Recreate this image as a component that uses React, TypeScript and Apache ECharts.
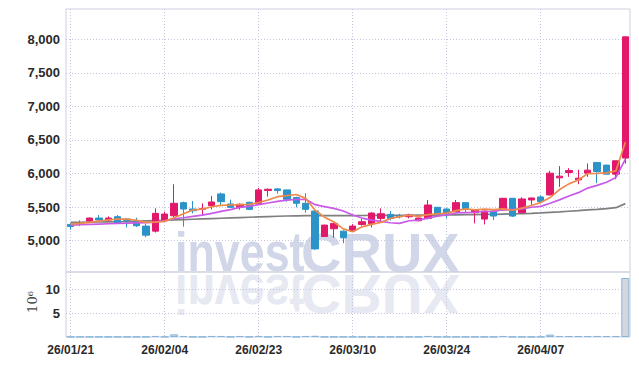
import React, { useEffect, useRef } from "react";
import * as echarts from "echarts";

const dates = [
  "26/01/21", "26/01/22", "26/01/23", "26/01/26", "26/01/27", "26/01/28", "26/01/29", "26/01/30",
  "26/02/02", "26/02/03", "26/02/04", "26/02/05", "26/02/06", "26/02/09", "26/02/10", "26/02/11",
  "26/02/12", "26/02/13", "26/02/19", "26/02/20", "26/02/23", "26/02/24", "26/02/25", "26/02/26",
  "26/02/27", "26/03/03", "26/03/04", "26/03/05", "26/03/06", "26/03/09", "26/03/10", "26/03/11",
  "26/03/12", "26/03/13", "26/03/16", "26/03/17", "26/03/18", "26/03/19", "26/03/20", "26/03/23",
  "26/03/24", "26/03/25", "26/03/26", "26/03/27", "26/03/30", "26/03/31", "26/04/01", "26/04/02",
  "26/04/03", "26/04/06", "26/04/07", "26/04/08", "26/04/09", "26/04/10", "26/04/13", "26/04/14",
  "26/04/15", "26/04/16", "26/04/17", "26/04/20",
];

const opens = [
  5240, 5250, 5290, 5335, 5305, 5355, 5320, 5300, 5215, 5140,
  5295, 5370, 5565, 5470, 5465, 5520, 5695, 5545, 5495, 5570,
  5555, 5745, 5770, 5755, 5640, 5555, 5440, 5060, 5175, 5140,
  5145, 5240, 5250, 5330, 5390, 5370, 5355, 5295, 5330, 5495,
  5470, 5430, 5565, 5415, 5320, 5440, 5455, 5630, 5415, 5605,
  5650, 5680, 5935, 6015, 5905, 6005, 6165, 6125, 5990, 6230,
];
const closes = [
  5210, 5240, 5335, 5305, 5335, 5265, 5300, 5220, 5080, 5405,
  5395, 5555, 5470, 5445, 5475, 5575, 5580, 5495, 5540, 5465,
  5755, 5765, 5745, 5615, 5555, 5465, 4875, 5230, 5255, 5040,
  5215, 5280, 5410, 5400, 5330, 5355, 5380, 5335, 5530, 5390,
  5405, 5565, 5470, 5460, 5440, 5365, 5630, 5365, 5620, 5635,
  5580, 6005, 5960, 6045, 5930, 6050, 6030, 5990, 6190, 8040,
];
const lows = [
  5160, 5215, 5285, 5295, 5290, 5260, 5195, 5200, 5050, 5120,
  5280, 5350, 5205, 5405, 5380, 5465, 5515, 5495, 5460, 5455,
  5545, 5655, 5700, 5580, 5495, 5415, 4860, 5055, 5040, 4960,
  5140, 5220, 5195, 5290, 5300, 5330, 5330, 5285, 5315, 5375,
  5330, 5425, 5425, 5255, 5240, 5305, 5445, 5350, 5405, 5530,
  5570, 5675, 5800, 5950, 5840, 5950, 5855, 5990, 5915, 6150,
];
const highs = [
  5260, 5300, 5345, 5380, 5360, 5380, 5330, 5340, 5250, 5480,
  5430, 5840, 5580, 5590, 5555, 5665, 5715, 5610, 5555, 5580,
  5785, 5775, 5785, 5760, 5655, 5705, 5450, 5235, 5260, 5150,
  5245, 5320, 5420, 5480, 5440, 5400, 5400, 5340, 5605, 5500,
  5480, 5605, 5570, 5465, 5445, 5445, 5635, 5635, 5645, 5640,
  5675, 6040, 6110, 6080, 6055, 6150, 6170, 6130, 6190, 8040,
];

const ma5 = [
  5245, 5255, 5270, 5290, 5310, 5318, 5320, 5300, 5270, 5275,
  5285, 5340, 5400, 5455, 5468, 5504, 5525, 5530, 5535, 5540,
  5567, 5604, 5654, 5669, 5687, 5629, 5451, 5348, 5276, 5173,
  5130, 5204, 5241, 5271, 5329, 5357, 5377, 5361, 5386, 5398,
  5408, 5445, 5472, 5458, 5468, 5460, 5473, 5452, 5484, 5523,
  5566, 5641, 5760, 5845, 5904, 5998, 6003, 6009, 6038, 6465,
];
const ma10 = [
  5230, 5235, 5240, 5245, 5250, 5255, 5258, 5262, 5265, 5275,
  5295, 5325, 5340, 5360, 5380, 5405, 5435, 5460, 5494, 5510,
  5536, 5560, 5584, 5603, 5612, 5615, 5535, 5505, 5480, 5440,
  5380, 5335, 5305, 5285, 5265, 5255, 5295, 5305, 5335, 5364,
  5383, 5411, 5417, 5422, 5433, 5434, 5459, 5462, 5471, 5496,
  5510, 5557, 5606, 5665, 5714, 5782, 5822, 5870, 5942, 6210,
];
const ma60 = [
  5270, 5272, 5274, 5276, 5278, 5280, 5283, 5287, 5292, 5297,
  5302, 5307, 5312, 5317, 5322, 5327, 5332, 5337, 5342, 5347,
  5352, 5357, 5362, 5366, 5369, 5371, 5370, 5371, 5372, 5372,
  5372, 5373, 5374, 5375, 5375, 5376, 5377, 5378, 5379, 5380,
  5381, 5383, 5385, 5387, 5389, 5391, 5394, 5397, 5401, 5406,
  5412, 5420, 5428, 5437, 5446, 5456, 5466, 5477, 5490, 5550,
];

// volume, in units of 10^6 shares
const volumes = [
  0.04, 0.04, 0.04, 0.04, 0.04, 0.04, 0.04, 0.04, 0.04, 0.22,
  0.05, 0.55, 0.22, 0.05, 0.05, 0.22, 0.22, 0.05, 0.22, 0.05,
  0.22, 0.05, 0.22, 0.22, 0.05, 0.22, 0.25, 0.05, 0.04, 0.05,
  0.04, 0.04, 0.05, 0.04, 0.04, 0.04, 0.04, 0.04, 0.22, 0.04,
  0.04, 0.05, 0.04, 0.04, 0.04, 0.04, 0.22, 0.05, 0.04, 0.04,
  0.05, 0.5, 0.22, 0.2, 0.2, 0.2, 0.22, 0.2, 0.22, 12.3,
];

const priceTicks = [5000, 5500, 6000, 6500, 7000, 7500, 8000];
const volumeTicks = [5, 10];
const dateGridIdx = [0, 10, 20, 30, 40, 50];

export default function App() {
  const ref = useRef<HTMLDivElement>(null);

  useEffect(() => {
    document.body.style.margin = "0";
    const chart = echarts.init(ref.current!, null, { renderer: "svg" });
    const candleData = dates.map((_, i) => [opens[i], closes[i], lows[i], highs[i]]);

    const tickFont = {
      fontFamily: '"Liberation Sans", Arial, sans-serif',
      fontSize: 13,
      fontWeight: "bold" as const,
      color: "#2a2a2a",
    };
    const dotted = { color: "#c3c6dc", type: [1, 2] as any, width: 1 };
    const borderColor = "#cfd1df";
    const L = 66;
    const W = 564;

    const xValueAxis = (gi: number) => ({
      type: "value",
      gridIndex: gi,
      min: -0.5,
      max: dates.length - 0.5,
      axisLine: { show: false },
      axisLabel: { show: false },
      axisTick: { show: false, customValues: dateGridIdx },
      splitLine: { show: true, lineStyle: dotted },
    });

    chart.setOption({
      animation: false,
      backgroundColor: "#ffffff",
      grid: [
        { left: L, top: 9, width: W, height: 263, show: true, borderColor, borderWidth: 1, backgroundColor: "transparent" },
        { left: L, top: 272, width: W, height: 65, show: true, borderColor, borderWidth: 1, backgroundColor: "transparent" },
      ],
      xAxis: [
        {
          type: "category", gridIndex: 0, data: dates, boundaryGap: true,
          axisLine: { show: false }, axisTick: { show: false }, axisLabel: { show: false }, splitLine: { show: false },
        },
        {
          type: "category", gridIndex: 1, data: dates, boundaryGap: true,
          axisLine: { show: false }, axisTick: { show: false }, splitLine: { show: false },
          axisLabel: { ...tickFont, fontSize: 12, interval: 9, margin: 7 },
        },
        xValueAxis(0),
        xValueAxis(1),
      ],
      yAxis: [
        {
          type: "value", gridIndex: 0, min: 4530, max: 8455,
          axisLine: { show: false },
          axisTick: { show: false, customValues: priceTicks },
          axisLabel: {
            ...tickFont, margin: 6, customValues: priceTicks,
            formatter: (v: number) => Math.round(v).toLocaleString("en-US"),
          },
          splitLine: { show: true, lineStyle: dotted },
        },
        {
          type: "value", gridIndex: 1, min: 0, max: 13.55,
          axisLine: { show: false },
          axisTick: { show: false, customValues: volumeTicks },
          axisLabel: { ...tickFont, margin: 6, customValues: volumeTicks },
          splitLine: { show: true, lineStyle: dotted },
        },
      ],
      series: [
        {
          type: "candlestick", xAxisIndex: 0, yAxisIndex: 0, data: candleData, barWidth: 7,
          itemStyle: { color: "#e2196b", color0: "#2b93c8", borderColor: "#e2196b", borderColor0: "#2b93c8", borderWidth: 1 },
          z: 3,
        },
        { type: "line", xAxisIndex: 0, yAxisIndex: 0, data: ma60, symbol: "none", lineStyle: { color: "#7f7f7f", width: 1.7 }, z: 2 },
        { type: "line", xAxisIndex: 0, yAxisIndex: 0, data: ma10, symbol: "none", lineStyle: { color: "#c95ae8", width: 1.7 }, z: 4 },
        { type: "line", xAxisIndex: 0, yAxisIndex: 0, data: ma5, symbol: "none", lineStyle: { color: "#ef8a4c", width: 1.7 }, z: 5 },
        {
          type: "bar", xAxisIndex: 1, yAxisIndex: 1, data: volumes, barWidth: 8,
          itemStyle: { color: "#d6d6de", borderColor: "#86b5da", borderWidth: 1 },
        },
      ],
      graphic: [
        {
          type: "text", z: -1, x: 175, y: 252, scaleX: 0.8,
          style: { text: "invest", font: 'bold 56px "Liberation Sans", sans-serif', fill: "#d1d6e9", verticalAlign: "middle", align: "left" },
        },
        {
          type: "text", z: -1, x: 301, y: 252, scaleX: 1.0,
          style: { text: "CRUX", font: 'bold 56px "Liberation Sans", sans-serif', fill: "#d1d6e9", verticalAlign: "middle", align: "left" },
        },
        {
          type: "text", z: -1, x: 175, y: 294, scaleX: 0.8, scaleY: -1,
          style: { text: "invest", font: 'bold 56px "Liberation Sans", sans-serif', fill: "#e6e8f2", verticalAlign: "middle", align: "left" },
        },
        {
          type: "text", z: -1, x: 301, y: 294, scaleX: 1.0, scaleY: -1,
          style: { text: "CRUX", font: 'bold 56px "Liberation Sans", sans-serif', fill: "#e6e8f2", verticalAlign: "middle", align: "left" },
        },
        {
          type: "text", x: 32, y: 302, rotation: Math.PI / 2,
          style: { text: "10⁶", font: '13px "DejaVu Serif", serif', fill: "#444", align: "center", verticalAlign: "middle" },
        },
      ],
    });

    return () => chart.dispose();
  }, []);

  return <div ref={ref} style={{ width: 639, height: 366 }} />;
}
